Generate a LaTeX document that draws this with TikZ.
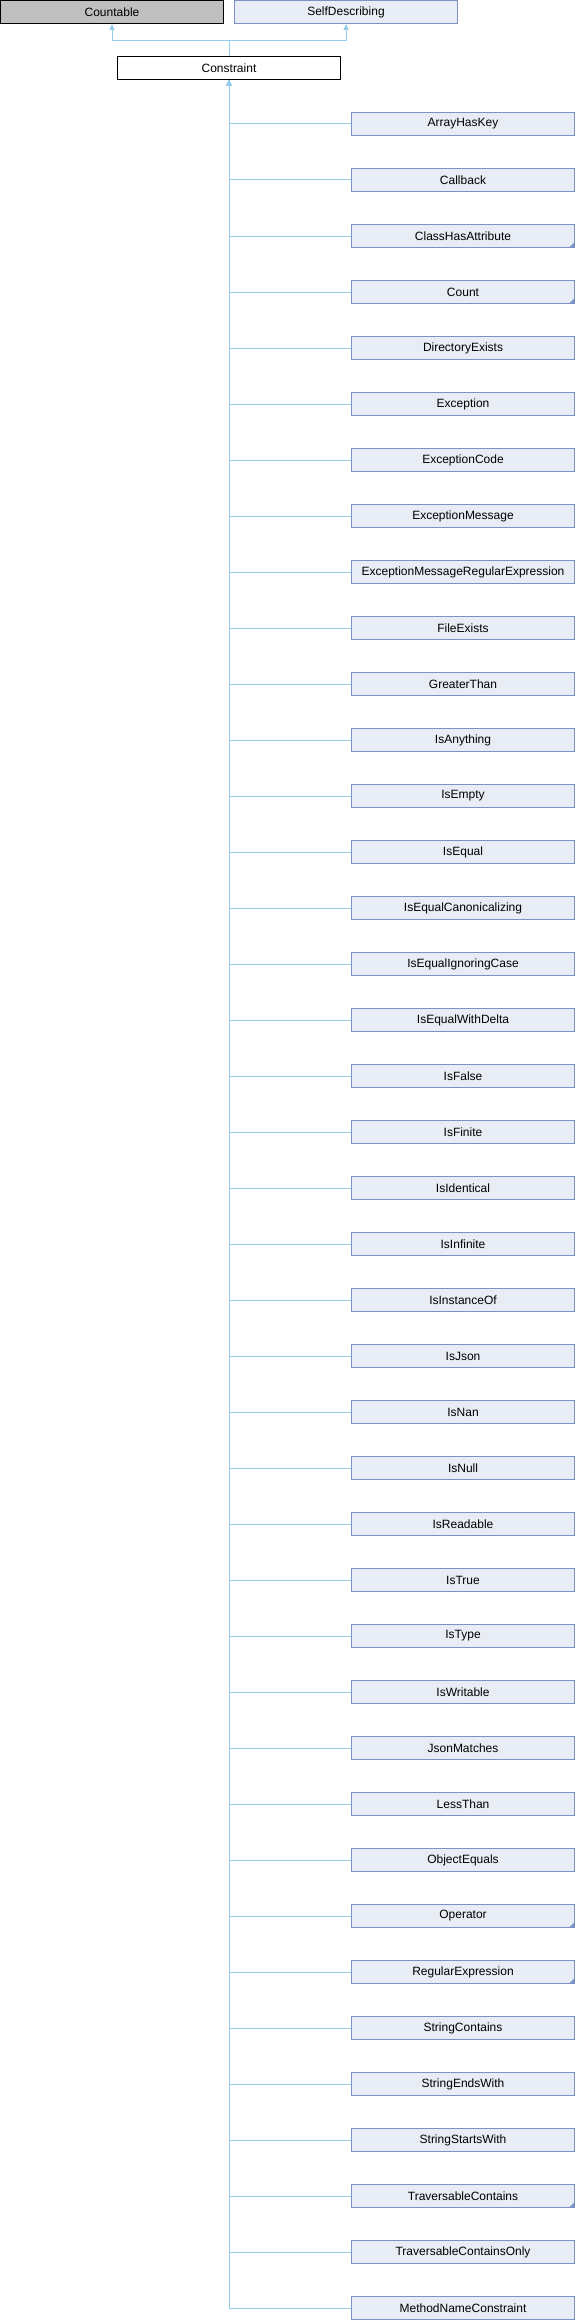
\documentclass[tikz,border=0pt]{standalone}
\usepackage{fontspec}
\setmainfont{Liberation Sans}
\usetikzlibrary{arrows.meta}
\definecolor{edgec}{HTML}{94CCEA}
\definecolor{boxfill}{HTML}{E8ECF4}
\definecolor{boxline}{HTML}{7A92C8}
\definecolor{grayfill}{HTML}{BFBFBF}
\begin{document}
\begin{tikzpicture}[x=1pt,y=-1pt,
  basebox/.style={line width=1pt, minimum width=223pt, minimum height=23pt, inner sep=0pt, font=\fontsize{12}{14}\selectfont, text=black},
  cls/.style={basebox, draw=boxline, fill=boxfill},
  ext/.style={basebox, draw=black, fill=grayfill},
  cur/.style={basebox, draw=black, fill=white},
  edge/.style={draw=edgec, line width=1pt, -{Triangle[length=6pt,width=5pt]}},
  morebox/.style={fill=boxline, draw=none}]
\useasboundingbox (0,0) rectangle (575,2320);
\node[ext] (Countable) at (112,12) {Countable};
\node[cls] (SelfDescribing) at (346,12) {SelfDescribing};
\node[cur] (Constraint) at (229,68) {Constraint};
\draw[edge] (Constraint.north) -- ++(0,-15.5) -| (Countable.south);
\draw[edge] (Constraint.north) -- ++(0,-15.5) -| (SelfDescribing.south);
\foreach \nm [count=\k from 0] in {ArrayHasKey,Callback,ClassHasAttribute,Count,DirectoryExists,Exception,ExceptionCode,ExceptionMessage,ExceptionMessageRegularExpression,FileExists,GreaterThan,IsAnything,IsEmpty,IsEqual,IsEqualCanonicalizing,IsEqualIgnoringCase,IsEqualWithDelta,IsFalse,IsFinite,IsIdentical,IsInfinite,IsInstanceOf,IsJson,IsNan,IsNull,IsReadable,IsTrue,IsType,IsWritable,JsonMatches,LessThan,ObjectEquals,Operator,RegularExpression,StringContains,StringEndsWith,StringStartsWith,TraversableContains,TraversableContainsOnly,MethodNameConstraint}{
  \node[cls] (c\k) at (463,124+56*\k) {\nm};
  \draw[edge] (c\k.west) -| (Constraint.south);
}
\foreach \k in {2,3,32,33,37}{
  \fill[morebox] ([xshift=-6pt,yshift=0.5pt]c\k.south east) -- ([xshift=-0.5pt,yshift=0.5pt]c\k.south east) -- ([xshift=-0.5pt,yshift=6pt]c\k.south east) -- cycle;
}
\end{tikzpicture}
\end{document}
